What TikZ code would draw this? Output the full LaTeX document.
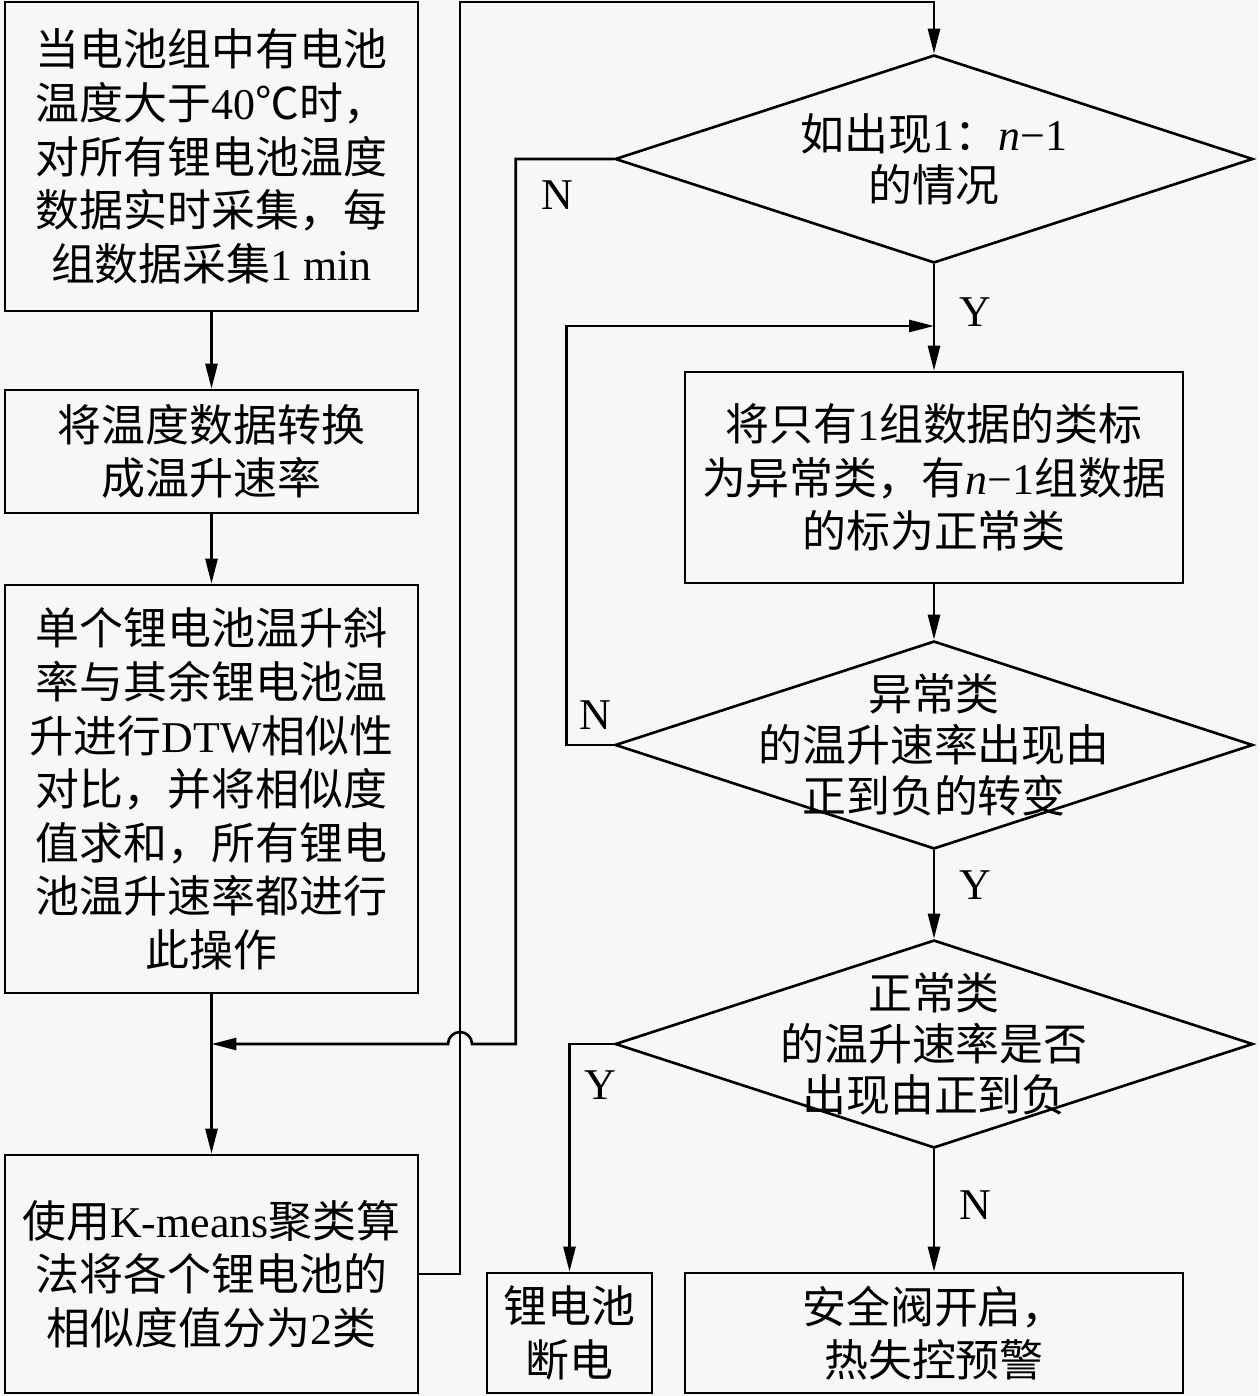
\documentclass[tikz,border=0pt]{standalone}
\usepackage{fontspec}
\setmainfont{Noto Sans CJK SC}
\newfontfamily\latin{Liberation Serif}
\newcommand{\lt}[1]{{\latin #1}}
\usetikzlibrary{shapes.geometric,arrows.meta}

\begin{document}
\begin{tikzpicture}[x=0.02cm,y=-0.02cm,%
% common options for boxes:
box/.style = {draw, line width=1.5pt, align=center, inner sep=0,
            font=\fontsize{25}{30.5}\selectfont},
% common options for the decisions:
decide/.style = {diamond, draw, line width=1.5pt, align=center, aspect=3,
            inner xsep=-2cm, inner ysep=-1cm,
            minimum width=12.76cm, minimum height=4.16cm,
            font=\fontsize{25}{29.2}\selectfont},
arrow/.style = {line width=1.5pt, -{Triangle[length=0.5cm,width=0.24cm]}},
yn/.style = {font=\latin\fontsize{25}{30}\selectfont}]
\fill[black!3] (0,0) rectangle (1259,1396);
\useasboundingbox (0,0) rectangle (1259,1396);
% left column
\node[box, minimum width=8.26cm, minimum height=6.18cm] (b1) at (211.5,156.5)
  {当电池组中有电池\\温度大于\lt{40}℃时，\\对所有锂电池温度\\数据实时采集，每\\组数据采集\lt{1 min}};
\node[box, minimum width=8.26cm, minimum height=2.46cm] (b2) at (211.5,451.5)
  {将温度数据转换\\成温升速率};
\node[box, minimum width=8.26cm, minimum height=8.16cm] (b3) at (211.5,789)
  {单个锂电池温升斜\\率与其余锂电池温\\升进行\lt{DTW}相似性\\对比，并将相似度\\值求和，所有锂电\\池温升速率都进行\\此操作};
\node[box, minimum width=8.26cm, minimum height=4.76cm] (b4) at (211.5,1274)
  {使用\lt{K-means}聚类算\\法将各个锂电池的\\相似度值分为\lt{2}类};
% right column
\node[decide] (d1) at (934,159) {如出现\lt{1}：\lt{\textit{n}−1}\\的情况};
\node[box, minimum width=9.96cm, minimum height=4.22cm] (b5) at (934,477.5)
  {将只有\lt{1}组数据的类标\\为异常类，有\lt{\textit{n}−1}组数据\\的标为正常类};
\node[decide] (d2) at (934,745) {异常类\\的温升速率出现由\\正到负的转变};
\node[decide] (d3) at (934,1044) {正常类\\的温升速率是否\\出现由正到负};
\node[box, minimum width=3.3cm, minimum height=2.4cm] (b6) at (569.5,1333)
  {锂电池\\断电};
\node[box, minimum width=9.96cm, minimum height=2.4cm] (b7) at (934,1333)
  {安全阀开启，\\热失控预警};
% helper points
\coordinate (up) at (460,2);
\coordinate (hop) at (472,1044);
\coordinate (join) at (b3.south |- hop);
\coordinate (back) at (934,326);
% connectors
\draw[arrow] (b1.south) -- (b2.north);
\draw[arrow] (b2.south) -- (b3.north);
\draw[arrow] (b3.south) -- (b4.north);
\draw[arrow] (b4.east) -| (up) -| (d1.north);
\draw[arrow] (d1.west) -- ++(-98,0) |- (hop)
  arc[start angle=0, end angle=180, radius=0.24cm] -- (join);
\draw[arrow] (d1.south) -- (b5.north);
\draw[arrow] (b5.south) -- (d2.north);
\draw[arrow] (d2.west) -- ++(-47,0) |- (back);
\draw[arrow] (d2.south) -- (d3.north);
\draw[arrow] (d3.west) -| (b6.north);
\draw[arrow] (d3.south) -- (b7.north);
% labels
\node[yn] (n1) at (557,195) {N};
\node[yn] (y1) at (975,312) {Y};
\node[yn] (n2) at (595,715) {N};
\node[yn] (y2) at (975,885) {Y};
\node[yn] (y3) at (600,1085) {Y};
\node[yn] (n3) at (975,1205) {N};
\end{tikzpicture}
\end{document}
